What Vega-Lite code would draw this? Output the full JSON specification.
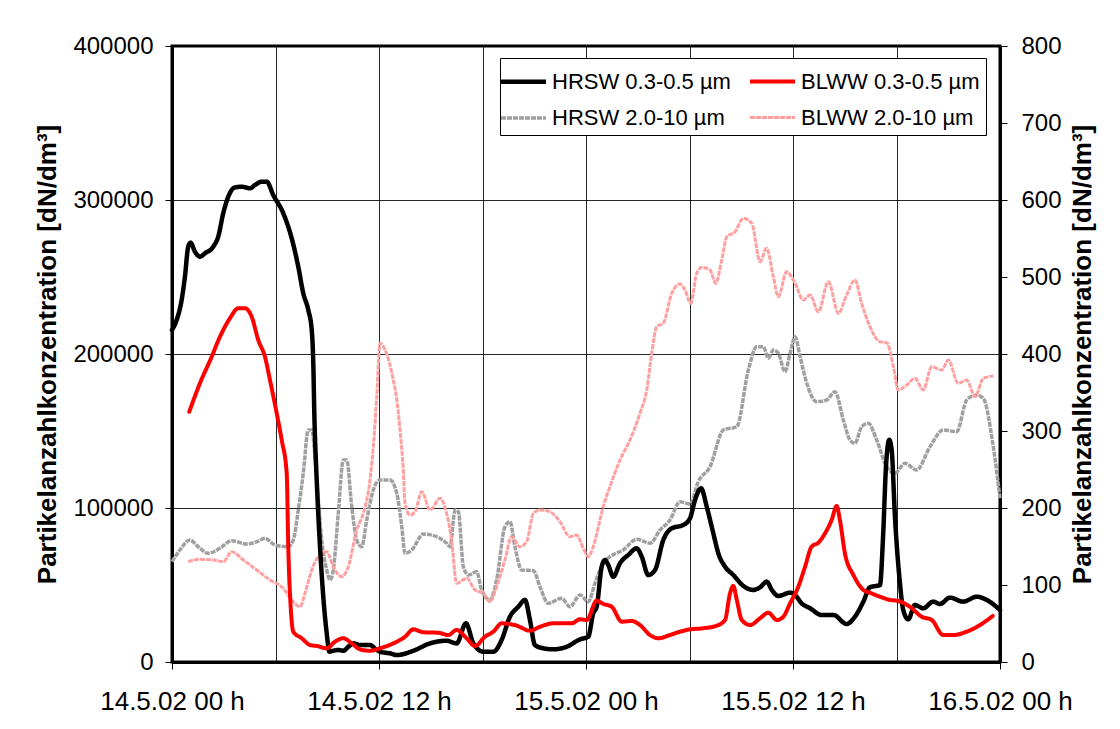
{
  "$schema": "https://vega.github.io/schema/vega-lite/v6.json",
  "width": 828,
  "height": 616,
  "autosize": "none",
  "padding": {"left": 172, "top": 46, "right": 120, "bottom": 67},
  "background": "white",
  "config": {
    "font": "Liberation Sans",
    "view": {"stroke": "#000000", "strokeWidth": 3},
    "axis": {
      "labelFont": "Liberation Sans",
      "titleFont": "Liberation Sans",
      "labelColor": "#000000",
      "titleColor": "#000000",
      "domainColor": "#000000",
      "domainWidth": 3,
      "tickColor": "#000000",
      "tickWidth": 1,
      "tickSize": 7,
      "gridColor": "#000000",
      "gridOpacity": 0.85,
      "gridWidth": 1
    },
    "legend": {
      "labelFont": "Liberation Sans",
      "labelFontSize": 22,
      "labelColor": "#000000"
    }
  },
  "datasets": {
    "fine": [
      {"h": 0, "s": "HRSW 0.3-0.5 µm", "v": 215600},
      {"h": 0.27, "s": "HRSW 0.3-0.5 µm", "v": 222100},
      {"h": 0.56, "s": "HRSW 0.3-0.5 µm", "v": 235100},
      {"h": 0.75, "s": "HRSW 0.3-0.5 µm", "v": 250200},
      {"h": 0.94, "s": "HRSW 0.3-0.5 µm", "v": 269700},
      {"h": 1.08, "s": "HRSW 0.3-0.5 µm", "v": 272300},
      {"h": 1.33, "s": "HRSW 0.3-0.5 µm", "v": 266400},
      {"h": 1.62, "s": "HRSW 0.3-0.5 µm", "v": 263200},
      {"h": 1.91, "s": "HRSW 0.3-0.5 µm", "v": 265400},
      {"h": 2.39, "s": "HRSW 0.3-0.5 µm", "v": 269700},
      {"h": 2.68, "s": "HRSW 0.3-0.5 µm", "v": 276200},
      {"h": 2.97, "s": "HRSW 0.3-0.5 µm", "v": 291400},
      {"h": 3.26, "s": "HRSW 0.3-0.5 µm", "v": 302100},
      {"h": 3.65, "s": "HRSW 0.3-0.5 µm", "v": 308200},
      {"h": 4.04, "s": "HRSW 0.3-0.5 µm", "v": 308600},
      {"h": 4.52, "s": "HRSW 0.3-0.5 µm", "v": 307600},
      {"h": 4.81, "s": "HRSW 0.3-0.5 µm", "v": 309700},
      {"h": 5.2, "s": "HRSW 0.3-0.5 µm", "v": 311900},
      {"h": 5.49, "s": "HRSW 0.3-0.5 µm", "v": 311900},
      {"h": 5.87, "s": "HRSW 0.3-0.5 µm", "v": 303200},
      {"h": 6.45, "s": "HRSW 0.3-0.5 µm", "v": 291400},
      {"h": 6.94, "s": "HRSW 0.3-0.5 µm", "v": 275100},
      {"h": 7.32, "s": "HRSW 0.3-0.5 µm", "v": 256700},
      {"h": 7.61, "s": "HRSW 0.3-0.5 µm", "v": 239400},
      {"h": 7.9, "s": "HRSW 0.3-0.5 µm", "v": 228600},
      {"h": 8.1, "s": "HRSW 0.3-0.5 µm", "v": 215600},
      {"h": 8.19, "s": "HRSW 0.3-0.5 µm", "v": 194000},
      {"h": 8.25, "s": "HRSW 0.3-0.5 µm", "v": 161700},
      {"h": 8.39, "s": "HRSW 0.3-0.5 µm", "v": 118200},
      {"h": 8.58, "s": "HRSW 0.3-0.5 µm", "v": 74900},
      {"h": 8.77, "s": "HRSW 0.3-0.5 µm", "v": 42400},
      {"h": 8.97, "s": "HRSW 0.3-0.5 µm", "v": 18600},
      {"h": 9.12, "s": "HRSW 0.3-0.5 µm", "v": 6700},
      {"h": 9.35, "s": "HRSW 0.3-0.5 µm", "v": 7300},
      {"h": 9.64, "s": "HRSW 0.3-0.5 µm", "v": 7800},
      {"h": 9.93, "s": "HRSW 0.3-0.5 µm", "v": 7300},
      {"h": 10.22, "s": "HRSW 0.3-0.5 µm", "v": 9900},
      {"h": 10.51, "s": "HRSW 0.3-0.5 µm", "v": 12100},
      {"h": 10.9, "s": "HRSW 0.3-0.5 µm", "v": 11000},
      {"h": 11.48, "s": "HRSW 0.3-0.5 µm", "v": 11000},
      {"h": 11.87, "s": "HRSW 0.3-0.5 µm", "v": 7800},
      {"h": 12.06, "s": "HRSW 0.3-0.5 µm", "v": 6700},
      {"h": 12.64, "s": "HRSW 0.3-0.5 µm", "v": 5600},
      {"h": 13.03, "s": "HRSW 0.3-0.5 µm", "v": 4500},
      {"h": 13.99, "s": "HRSW 0.3-0.5 µm", "v": 7300},
      {"h": 14.96, "s": "HRSW 0.3-0.5 µm", "v": 12100},
      {"h": 15.92, "s": "HRSW 0.3-0.5 µm", "v": 13800},
      {"h": 16.5, "s": "HRSW 0.3-0.5 µm", "v": 12100},
      {"h": 17.04, "s": "HRSW 0.3-0.5 µm", "v": 25100},
      {"h": 17.47, "s": "HRSW 0.3-0.5 µm", "v": 12100},
      {"h": 18.05, "s": "HRSW 0.3-0.5 µm", "v": 6700},
      {"h": 18.63, "s": "HRSW 0.3-0.5 µm", "v": 6700},
      {"h": 19.11, "s": "HRSW 0.3-0.5 µm", "v": 14300},
      {"h": 19.59, "s": "HRSW 0.3-0.5 µm", "v": 29400},
      {"h": 20.08, "s": "HRSW 0.3-0.5 µm", "v": 35900},
      {"h": 20.46, "s": "HRSW 0.3-0.5 µm", "v": 40300},
      {"h": 20.75, "s": "HRSW 0.3-0.5 µm", "v": 27300},
      {"h": 21.04, "s": "HRSW 0.3-0.5 µm", "v": 11000},
      {"h": 21.52, "s": "HRSW 0.3-0.5 µm", "v": 8900},
      {"h": 22.1, "s": "HRSW 0.3-0.5 µm", "v": 8200},
      {"h": 22.88, "s": "HRSW 0.3-0.5 µm", "v": 9900},
      {"h": 23.65, "s": "HRSW 0.3-0.5 µm", "v": 14700},
      {"h": 24.13, "s": "HRSW 0.3-0.5 µm", "v": 16400},
      {"h": 24.42, "s": "HRSW 0.3-0.5 µm", "v": 31600},
      {"h": 24.62, "s": "HRSW 0.3-0.5 µm", "v": 35900},
      {"h": 24.91, "s": "HRSW 0.3-0.5 µm", "v": 61900},
      {"h": 25.1, "s": "HRSW 0.3-0.5 µm", "v": 66200},
      {"h": 25.29, "s": "HRSW 0.3-0.5 µm", "v": 63000},
      {"h": 25.58, "s": "HRSW 0.3-0.5 µm", "v": 55400},
      {"h": 25.97, "s": "HRSW 0.3-0.5 µm", "v": 64100},
      {"h": 26.45, "s": "HRSW 0.3-0.5 µm", "v": 69500},
      {"h": 26.94, "s": "HRSW 0.3-0.5 µm", "v": 73800},
      {"h": 27.23, "s": "HRSW 0.3-0.5 µm", "v": 68400},
      {"h": 27.61, "s": "HRSW 0.3-0.5 µm", "v": 56500},
      {"h": 28.0, "s": "HRSW 0.3-0.5 µm", "v": 59700},
      {"h": 28.48, "s": "HRSW 0.3-0.5 µm", "v": 79200},
      {"h": 28.97, "s": "HRSW 0.3-0.5 µm", "v": 86800},
      {"h": 29.64, "s": "HRSW 0.3-0.5 µm", "v": 89000},
      {"h": 30.03, "s": "HRSW 0.3-0.5 µm", "v": 93300},
      {"h": 30.32, "s": "HRSW 0.3-0.5 µm", "v": 105200},
      {"h": 30.67, "s": "HRSW 0.3-0.5 µm", "v": 112800},
      {"h": 31.0, "s": "HRSW 0.3-0.5 µm", "v": 100800},
      {"h": 31.38, "s": "HRSW 0.3-0.5 µm", "v": 83600},
      {"h": 31.67, "s": "HRSW 0.3-0.5 µm", "v": 70600},
      {"h": 32.06, "s": "HRSW 0.3-0.5 µm", "v": 61900},
      {"h": 32.54, "s": "HRSW 0.3-0.5 µm", "v": 56500},
      {"h": 33.12, "s": "HRSW 0.3-0.5 µm", "v": 49400},
      {"h": 33.7, "s": "HRSW 0.3-0.5 µm", "v": 46800},
      {"h": 34.09, "s": "HRSW 0.3-0.5 µm", "v": 48500},
      {"h": 34.48, "s": "HRSW 0.3-0.5 µm", "v": 52100},
      {"h": 34.77, "s": "HRSW 0.3-0.5 µm", "v": 46800},
      {"h": 35.15, "s": "HRSW 0.3-0.5 µm", "v": 42900},
      {"h": 35.83, "s": "HRSW 0.3-0.5 µm", "v": 45000},
      {"h": 36.12, "s": "HRSW 0.3-0.5 µm", "v": 43500},
      {"h": 36.5, "s": "HRSW 0.3-0.5 µm", "v": 38100},
      {"h": 36.99, "s": "HRSW 0.3-0.5 µm", "v": 34900},
      {"h": 37.66, "s": "HRSW 0.3-0.5 µm", "v": 30500},
      {"h": 38.34, "s": "HRSW 0.3-0.5 µm", "v": 30500},
      {"h": 39.11, "s": "HRSW 0.3-0.5 µm", "v": 24700},
      {"h": 39.59, "s": "HRSW 0.3-0.5 µm", "v": 29400},
      {"h": 40.08, "s": "HRSW 0.3-0.5 µm", "v": 39200},
      {"h": 40.46, "s": "HRSW 0.3-0.5 µm", "v": 48500},
      {"h": 41.04, "s": "HRSW 0.3-0.5 µm", "v": 50000},
      {"h": 41.23, "s": "HRSW 0.3-0.5 µm", "v": 83600},
      {"h": 41.39, "s": "HRSW 0.3-0.5 µm", "v": 126800},
      {"h": 41.58, "s": "HRSW 0.3-0.5 µm", "v": 144200},
      {"h": 41.72, "s": "HRSW 0.3-0.5 µm", "v": 137700},
      {"h": 41.91, "s": "HRSW 0.3-0.5 µm", "v": 94400},
      {"h": 42.2, "s": "HRSW 0.3-0.5 µm", "v": 51100},
      {"h": 42.39, "s": "HRSW 0.3-0.5 µm", "v": 33800},
      {"h": 42.68, "s": "HRSW 0.3-0.5 µm", "v": 27700},
      {"h": 43.07, "s": "HRSW 0.3-0.5 µm", "v": 37000},
      {"h": 43.55, "s": "HRSW 0.3-0.5 µm", "v": 34900},
      {"h": 44.13, "s": "HRSW 0.3-0.5 µm", "v": 39200},
      {"h": 44.52, "s": "HRSW 0.3-0.5 µm", "v": 37700},
      {"h": 45.1, "s": "HRSW 0.3-0.5 µm", "v": 41800},
      {"h": 45.87, "s": "HRSW 0.3-0.5 µm", "v": 39200},
      {"h": 46.65, "s": "HRSW 0.3-0.5 µm", "v": 42400},
      {"h": 47.23, "s": "HRSW 0.3-0.5 µm", "v": 40300},
      {"h": 48, "s": "HRSW 0.3-0.5 µm", "v": 33800},
      {"h": 1.0, "s": "BLWW 0.3-0.5 µm", "v": 162500},
      {"h": 1.62, "s": "BLWW 0.3-0.5 µm", "v": 181000},
      {"h": 2.3, "s": "BLWW 0.3-0.5 µm", "v": 198200},
      {"h": 2.78, "s": "BLWW 0.3-0.5 µm", "v": 211200},
      {"h": 3.36, "s": "BLWW 0.3-0.5 µm", "v": 223200},
      {"h": 3.84, "s": "BLWW 0.3-0.5 µm", "v": 229700},
      {"h": 4.23, "s": "BLWW 0.3-0.5 µm", "v": 229700},
      {"h": 4.62, "s": "BLWW 0.3-0.5 µm", "v": 224200},
      {"h": 5.0, "s": "BLWW 0.3-0.5 µm", "v": 209100},
      {"h": 5.39, "s": "BLWW 0.3-0.5 µm", "v": 198200},
      {"h": 5.68, "s": "BLWW 0.3-0.5 µm", "v": 183100},
      {"h": 6.07, "s": "BLWW 0.3-0.5 µm", "v": 161500},
      {"h": 6.36, "s": "BLWW 0.3-0.5 µm", "v": 144200},
      {"h": 6.65, "s": "BLWW 0.3-0.5 µm", "v": 122500},
      {"h": 6.74, "s": "BLWW 0.3-0.5 µm", "v": 74900},
      {"h": 6.88, "s": "BLWW 0.3-0.5 µm", "v": 35900},
      {"h": 7.03, "s": "BLWW 0.3-0.5 µm", "v": 19700},
      {"h": 7.52, "s": "BLWW 0.3-0.5 µm", "v": 15400},
      {"h": 8.0, "s": "BLWW 0.3-0.5 µm", "v": 11000},
      {"h": 8.39, "s": "BLWW 0.3-0.5 µm", "v": 10400},
      {"h": 8.97, "s": "BLWW 0.3-0.5 µm", "v": 8900},
      {"h": 9.45, "s": "BLWW 0.3-0.5 µm", "v": 13200},
      {"h": 9.93, "s": "BLWW 0.3-0.5 µm", "v": 15400},
      {"h": 10.42, "s": "BLWW 0.3-0.5 µm", "v": 12100},
      {"h": 10.9, "s": "BLWW 0.3-0.5 µm", "v": 8200},
      {"h": 11.48, "s": "BLWW 0.3-0.5 µm", "v": 7300},
      {"h": 12.06, "s": "BLWW 0.3-0.5 µm", "v": 8900},
      {"h": 12.83, "s": "BLWW 0.3-0.5 µm", "v": 12100},
      {"h": 13.51, "s": "BLWW 0.3-0.5 µm", "v": 16400},
      {"h": 13.99, "s": "BLWW 0.3-0.5 µm", "v": 21200},
      {"h": 14.57, "s": "BLWW 0.3-0.5 µm", "v": 19300},
      {"h": 15.44, "s": "BLWW 0.3-0.5 µm", "v": 19000},
      {"h": 16.02, "s": "BLWW 0.3-0.5 µm", "v": 17500},
      {"h": 16.5, "s": "BLWW 0.3-0.5 µm", "v": 20800},
      {"h": 17.08, "s": "BLWW 0.3-0.5 µm", "v": 15400},
      {"h": 17.57, "s": "BLWW 0.3-0.5 µm", "v": 10400},
      {"h": 18.14, "s": "BLWW 0.3-0.5 µm", "v": 16400},
      {"h": 18.63, "s": "BLWW 0.3-0.5 µm", "v": 19700},
      {"h": 19.11, "s": "BLWW 0.3-0.5 µm", "v": 25100},
      {"h": 19.98, "s": "BLWW 0.3-0.5 µm", "v": 23600},
      {"h": 20.75, "s": "BLWW 0.3-0.5 µm", "v": 20300},
      {"h": 21.33, "s": "BLWW 0.3-0.5 µm", "v": 22900},
      {"h": 22.1, "s": "BLWW 0.3-0.5 µm", "v": 25100},
      {"h": 23.17, "s": "BLWW 0.3-0.5 µm", "v": 25100},
      {"h": 23.65, "s": "BLWW 0.3-0.5 µm", "v": 27700},
      {"h": 24.04, "s": "BLWW 0.3-0.5 µm", "v": 27300},
      {"h": 24.62, "s": "BLWW 0.3-0.5 µm", "v": 39800},
      {"h": 25.0, "s": "BLWW 0.3-0.5 µm", "v": 37700},
      {"h": 25.49, "s": "BLWW 0.3-0.5 µm", "v": 35900},
      {"h": 26.07, "s": "BLWW 0.3-0.5 µm", "v": 26200},
      {"h": 26.65, "s": "BLWW 0.3-0.5 µm", "v": 26600},
      {"h": 27.13, "s": "BLWW 0.3-0.5 µm", "v": 24000},
      {"h": 27.71, "s": "BLWW 0.3-0.5 µm", "v": 17500},
      {"h": 28.19, "s": "BLWW 0.3-0.5 µm", "v": 15400},
      {"h": 28.87, "s": "BLWW 0.3-0.5 µm", "v": 17500},
      {"h": 29.45, "s": "BLWW 0.3-0.5 µm", "v": 19700},
      {"h": 30.03, "s": "BLWW 0.3-0.5 µm", "v": 21200},
      {"h": 30.8, "s": "BLWW 0.3-0.5 µm", "v": 21900},
      {"h": 31.58, "s": "BLWW 0.3-0.5 µm", "v": 23600},
      {"h": 32.06, "s": "BLWW 0.3-0.5 µm", "v": 27300},
      {"h": 32.35, "s": "BLWW 0.3-0.5 µm", "v": 44600},
      {"h": 32.54, "s": "BLWW 0.3-0.5 µm", "v": 49400},
      {"h": 32.74, "s": "BLWW 0.3-0.5 µm", "v": 40300},
      {"h": 33.03, "s": "BLWW 0.3-0.5 µm", "v": 27300},
      {"h": 33.51, "s": "BLWW 0.3-0.5 µm", "v": 24000},
      {"h": 34.09, "s": "BLWW 0.3-0.5 µm", "v": 28400},
      {"h": 34.57, "s": "BLWW 0.3-0.5 µm", "v": 32000},
      {"h": 35.06, "s": "BLWW 0.3-0.5 µm", "v": 27300},
      {"h": 35.44, "s": "BLWW 0.3-0.5 µm", "v": 29400},
      {"h": 35.83, "s": "BLWW 0.3-0.5 µm", "v": 38100},
      {"h": 36.31, "s": "BLWW 0.3-0.5 µm", "v": 48900},
      {"h": 36.7, "s": "BLWW 0.3-0.5 µm", "v": 61900},
      {"h": 37.08, "s": "BLWW 0.3-0.5 µm", "v": 74900},
      {"h": 37.47, "s": "BLWW 0.3-0.5 µm", "v": 77500},
      {"h": 37.86, "s": "BLWW 0.3-0.5 µm", "v": 83600},
      {"h": 38.24, "s": "BLWW 0.3-0.5 µm", "v": 92200},
      {"h": 38.53, "s": "BLWW 0.3-0.5 µm", "v": 101300},
      {"h": 38.72, "s": "BLWW 0.3-0.5 µm", "v": 92200},
      {"h": 39.01, "s": "BLWW 0.3-0.5 µm", "v": 70600},
      {"h": 39.5, "s": "BLWW 0.3-0.5 µm", "v": 56500},
      {"h": 40.08, "s": "BLWW 0.3-0.5 µm", "v": 46800},
      {"h": 40.46, "s": "BLWW 0.3-0.5 µm", "v": 45000},
      {"h": 41.04, "s": "BLWW 0.3-0.5 µm", "v": 42400},
      {"h": 41.62, "s": "BLWW 0.3-0.5 µm", "v": 40300},
      {"h": 42.1, "s": "BLWW 0.3-0.5 µm", "v": 39600},
      {"h": 42.78, "s": "BLWW 0.3-0.5 µm", "v": 35900},
      {"h": 43.46, "s": "BLWW 0.3-0.5 µm", "v": 29400},
      {"h": 44.04, "s": "BLWW 0.3-0.5 µm", "v": 27300},
      {"h": 44.71, "s": "BLWW 0.3-0.5 µm", "v": 17500},
      {"h": 45.29, "s": "BLWW 0.3-0.5 µm", "v": 17500},
      {"h": 46.07, "s": "BLWW 0.3-0.5 µm", "v": 19700},
      {"h": 46.84, "s": "BLWW 0.3-0.5 µm", "v": 24000},
      {"h": 47.58, "s": "BLWW 0.3-0.5 µm", "v": 29900}
    ],
    "coarse": [
      {"h": 0, "s": "HRSW 2.0-10 µm", "v": 130.3},
      {"h": 0.46, "s": "HRSW 2.0-10 µm", "v": 145.5},
      {"h": 1.04, "s": "HRSW 2.0-10 µm", "v": 158.4},
      {"h": 1.52, "s": "HRSW 2.0-10 µm", "v": 149.7},
      {"h": 2.1, "s": "HRSW 2.0-10 µm", "v": 141.2},
      {"h": 2.78, "s": "HRSW 2.0-10 µm", "v": 147.7},
      {"h": 3.46, "s": "HRSW 2.0-10 µm", "v": 157.5},
      {"h": 4.33, "s": "HRSW 2.0-10 µm", "v": 153.2},
      {"h": 4.91, "s": "HRSW 2.0-10 µm", "v": 156.2},
      {"h": 5.39, "s": "HRSW 2.0-10 µm", "v": 160.6},
      {"h": 5.97, "s": "HRSW 2.0-10 µm", "v": 151.9},
      {"h": 6.74, "s": "HRSW 2.0-10 µm", "v": 149.7},
      {"h": 7.03, "s": "HRSW 2.0-10 µm", "v": 158.4},
      {"h": 7.32, "s": "HRSW 2.0-10 µm", "v": 197.4},
      {"h": 7.61, "s": "HRSW 2.0-10 µm", "v": 245.1},
      {"h": 7.9, "s": "HRSW 2.0-10 µm", "v": 301.3},
      {"h": 8.1, "s": "HRSW 2.0-10 µm", "v": 301.3},
      {"h": 8.39, "s": "HRSW 2.0-10 µm", "v": 236.4},
      {"h": 8.68, "s": "HRSW 2.0-10 µm", "v": 158.4},
      {"h": 8.97, "s": "HRSW 2.0-10 µm", "v": 119.5},
      {"h": 9.16, "s": "HRSW 2.0-10 µm", "v": 106.5},
      {"h": 9.35, "s": "HRSW 2.0-10 µm", "v": 119.5},
      {"h": 9.64, "s": "HRSW 2.0-10 µm", "v": 193.1},
      {"h": 9.93, "s": "HRSW 2.0-10 µm", "v": 262.3},
      {"h": 10.13, "s": "HRSW 2.0-10 µm", "v": 262.3},
      {"h": 10.42, "s": "HRSW 2.0-10 µm", "v": 201.7},
      {"h": 10.71, "s": "HRSW 2.0-10 µm", "v": 158.4},
      {"h": 11.0, "s": "HRSW 2.0-10 µm", "v": 149.7},
      {"h": 11.29, "s": "HRSW 2.0-10 µm", "v": 184.4},
      {"h": 11.67, "s": "HRSW 2.0-10 µm", "v": 223.4},
      {"h": 12.06, "s": "HRSW 2.0-10 µm", "v": 236.4},
      {"h": 12.64, "s": "HRSW 2.0-10 µm", "v": 236.4},
      {"h": 13.03, "s": "HRSW 2.0-10 µm", "v": 219.1},
      {"h": 13.32, "s": "HRSW 2.0-10 µm", "v": 175.7},
      {"h": 13.51, "s": "HRSW 2.0-10 µm", "v": 141.2},
      {"h": 13.9, "s": "HRSW 2.0-10 µm", "v": 145.5},
      {"h": 14.57, "s": "HRSW 2.0-10 µm", "v": 166.2},
      {"h": 15.34, "s": "HRSW 2.0-10 µm", "v": 162.7},
      {"h": 15.92, "s": "HRSW 2.0-10 µm", "v": 154.2},
      {"h": 16.12, "s": "HRSW 2.0-10 µm", "v": 149.7},
      {"h": 16.41, "s": "HRSW 2.0-10 µm", "v": 197.4},
      {"h": 16.6, "s": "HRSW 2.0-10 µm", "v": 195.2},
      {"h": 16.89, "s": "HRSW 2.0-10 µm", "v": 123.8},
      {"h": 17.18, "s": "HRSW 2.0-10 µm", "v": 113.0},
      {"h": 17.66, "s": "HRSW 2.0-10 µm", "v": 117.3},
      {"h": 17.95, "s": "HRSW 2.0-10 µm", "v": 93.5},
      {"h": 18.43, "s": "HRSW 2.0-10 µm", "v": 80.5},
      {"h": 18.82, "s": "HRSW 2.0-10 µm", "v": 106.5},
      {"h": 19.3, "s": "HRSW 2.0-10 µm", "v": 175.7},
      {"h": 19.59, "s": "HRSW 2.0-10 µm", "v": 182.2},
      {"h": 19.88, "s": "HRSW 2.0-10 µm", "v": 149.7},
      {"h": 20.27, "s": "HRSW 2.0-10 µm", "v": 119.5},
      {"h": 20.95, "s": "HRSW 2.0-10 µm", "v": 118.6},
      {"h": 21.33, "s": "HRSW 2.0-10 µm", "v": 97.8},
      {"h": 21.81, "s": "HRSW 2.0-10 µm", "v": 76.2},
      {"h": 22.59, "s": "HRSW 2.0-10 µm", "v": 82.7},
      {"h": 23.07, "s": "HRSW 2.0-10 µm", "v": 71.8},
      {"h": 23.65, "s": "HRSW 2.0-10 µm", "v": 87.0},
      {"h": 24.13, "s": "HRSW 2.0-10 µm", "v": 78.3},
      {"h": 24.52, "s": "HRSW 2.0-10 µm", "v": 102.2},
      {"h": 24.81, "s": "HRSW 2.0-10 µm", "v": 119.5},
      {"h": 25.0, "s": "HRSW 2.0-10 µm", "v": 128.2},
      {"h": 25.39, "s": "HRSW 2.0-10 µm", "v": 136.8},
      {"h": 26.16, "s": "HRSW 2.0-10 µm", "v": 145.5},
      {"h": 26.94, "s": "HRSW 2.0-10 µm", "v": 159.4},
      {"h": 27.71, "s": "HRSW 2.0-10 µm", "v": 154.2},
      {"h": 28.29, "s": "HRSW 2.0-10 µm", "v": 171.4},
      {"h": 28.87, "s": "HRSW 2.0-10 µm", "v": 184.4},
      {"h": 29.45, "s": "HRSW 2.0-10 µm", "v": 208.2},
      {"h": 30.03, "s": "HRSW 2.0-10 µm", "v": 205.2},
      {"h": 30.51, "s": "HRSW 2.0-10 µm", "v": 234.2},
      {"h": 31.19, "s": "HRSW 2.0-10 µm", "v": 253.6},
      {"h": 31.96, "s": "HRSW 2.0-10 µm", "v": 301.3},
      {"h": 32.74, "s": "HRSW 2.0-10 µm", "v": 305.6},
      {"h": 33.41, "s": "HRSW 2.0-10 µm", "v": 379.2},
      {"h": 33.9, "s": "HRSW 2.0-10 µm", "v": 409.5},
      {"h": 34.28, "s": "HRSW 2.0-10 µm", "v": 409.5},
      {"h": 34.57, "s": "HRSW 2.0-10 µm", "v": 394.4},
      {"h": 34.86, "s": "HRSW 2.0-10 µm", "v": 405.2},
      {"h": 35.15, "s": "HRSW 2.0-10 µm", "v": 400.9},
      {"h": 35.54, "s": "HRSW 2.0-10 µm", "v": 377.0},
      {"h": 35.83, "s": "HRSW 2.0-10 µm", "v": 400.9},
      {"h": 36.12, "s": "HRSW 2.0-10 µm", "v": 422.5},
      {"h": 36.41, "s": "HRSW 2.0-10 µm", "v": 396.5},
      {"h": 36.8, "s": "HRSW 2.0-10 µm", "v": 361.9},
      {"h": 37.37, "s": "HRSW 2.0-10 µm", "v": 338.1},
      {"h": 37.95, "s": "HRSW 2.0-10 µm", "v": 340.3},
      {"h": 38.43, "s": "HRSW 2.0-10 µm", "v": 351.0},
      {"h": 38.92, "s": "HRSW 2.0-10 µm", "v": 314.3},
      {"h": 39.3, "s": "HRSW 2.0-10 µm", "v": 288.3},
      {"h": 39.59, "s": "HRSW 2.0-10 µm", "v": 284.0},
      {"h": 39.98, "s": "HRSW 2.0-10 µm", "v": 305.6},
      {"h": 40.37, "s": "HRSW 2.0-10 µm", "v": 310.0},
      {"h": 40.85, "s": "HRSW 2.0-10 µm", "v": 288.3},
      {"h": 41.43, "s": "HRSW 2.0-10 µm", "v": 253.6},
      {"h": 41.91, "s": "HRSW 2.0-10 µm", "v": 245.1},
      {"h": 42.49, "s": "HRSW 2.0-10 µm", "v": 258.1},
      {"h": 43.17, "s": "HRSW 2.0-10 µm", "v": 249.4},
      {"h": 43.94, "s": "HRSW 2.0-10 µm", "v": 279.6},
      {"h": 44.71, "s": "HRSW 2.0-10 µm", "v": 301.3},
      {"h": 45.49, "s": "HRSW 2.0-10 µm", "v": 299.1},
      {"h": 46.07, "s": "HRSW 2.0-10 µm", "v": 340.3},
      {"h": 46.65, "s": "HRSW 2.0-10 µm", "v": 346.8},
      {"h": 47.03, "s": "HRSW 2.0-10 µm", "v": 342.5},
      {"h": 47.61, "s": "HRSW 2.0-10 µm", "v": 279.6},
      {"h": 48, "s": "HRSW 2.0-10 µm", "v": 212.6},
      {"h": 0.94, "s": "BLWW 2.0-10 µm", "v": 130.3},
      {"h": 1.62, "s": "BLWW 2.0-10 µm", "v": 133.4},
      {"h": 2.39, "s": "BLWW 2.0-10 µm", "v": 132.5},
      {"h": 2.97, "s": "BLWW 2.0-10 µm", "v": 130.3},
      {"h": 3.46, "s": "BLWW 2.0-10 µm", "v": 143.2},
      {"h": 4.13, "s": "BLWW 2.0-10 µm", "v": 132.5},
      {"h": 4.91, "s": "BLWW 2.0-10 µm", "v": 119.5},
      {"h": 5.68, "s": "BLWW 2.0-10 µm", "v": 106.5},
      {"h": 6.45, "s": "BLWW 2.0-10 µm", "v": 95.7},
      {"h": 6.94, "s": "BLWW 2.0-10 µm", "v": 80.5},
      {"h": 7.42, "s": "BLWW 2.0-10 µm", "v": 71.8},
      {"h": 7.71, "s": "BLWW 2.0-10 µm", "v": 89.2},
      {"h": 8.1, "s": "BLWW 2.0-10 µm", "v": 119.5},
      {"h": 8.48, "s": "BLWW 2.0-10 µm", "v": 136.8},
      {"h": 8.97, "s": "BLWW 2.0-10 µm", "v": 143.2},
      {"h": 9.35, "s": "BLWW 2.0-10 µm", "v": 123.8},
      {"h": 9.84, "s": "BLWW 2.0-10 µm", "v": 110.8},
      {"h": 10.22, "s": "BLWW 2.0-10 µm", "v": 123.8},
      {"h": 10.71, "s": "BLWW 2.0-10 µm", "v": 171.4},
      {"h": 11.09, "s": "BLWW 2.0-10 µm", "v": 193.1},
      {"h": 11.48, "s": "BLWW 2.0-10 µm", "v": 236.4},
      {"h": 11.67, "s": "BLWW 2.0-10 µm", "v": 279.6},
      {"h": 11.87, "s": "BLWW 2.0-10 µm", "v": 344.5},
      {"h": 12.06, "s": "BLWW 2.0-10 µm", "v": 413.9},
      {"h": 12.35, "s": "BLWW 2.0-10 µm", "v": 405.2},
      {"h": 12.83, "s": "BLWW 2.0-10 µm", "v": 366.2},
      {"h": 13.03, "s": "BLWW 2.0-10 µm", "v": 341.0},
      {"h": 13.22, "s": "BLWW 2.0-10 µm", "v": 301.0},
      {"h": 13.41, "s": "BLWW 2.0-10 µm", "v": 249.0},
      {"h": 13.51, "s": "BLWW 2.0-10 µm", "v": 206.0},
      {"h": 13.8, "s": "BLWW 2.0-10 µm", "v": 190.9},
      {"h": 14.09, "s": "BLWW 2.0-10 µm", "v": 195.2},
      {"h": 14.48, "s": "BLWW 2.0-10 µm", "v": 221.2},
      {"h": 14.96, "s": "BLWW 2.0-10 µm", "v": 197.4},
      {"h": 15.54, "s": "BLWW 2.0-10 µm", "v": 212.6},
      {"h": 15.92, "s": "BLWW 2.0-10 µm", "v": 193.1},
      {"h": 16.21, "s": "BLWW 2.0-10 µm", "v": 158.4},
      {"h": 16.5, "s": "BLWW 2.0-10 µm", "v": 102.2},
      {"h": 17.08, "s": "BLWW 2.0-10 µm", "v": 108.7},
      {"h": 17.57, "s": "BLWW 2.0-10 µm", "v": 93.5},
      {"h": 18.05, "s": "BLWW 2.0-10 µm", "v": 89.2},
      {"h": 18.43, "s": "BLWW 2.0-10 µm", "v": 78.3},
      {"h": 18.82, "s": "BLWW 2.0-10 µm", "v": 97.8},
      {"h": 19.3, "s": "BLWW 2.0-10 µm", "v": 132.5},
      {"h": 19.69, "s": "BLWW 2.0-10 µm", "v": 162.7},
      {"h": 20.17, "s": "BLWW 2.0-10 µm", "v": 149.7},
      {"h": 20.56, "s": "BLWW 2.0-10 µm", "v": 156.2},
      {"h": 20.95, "s": "BLWW 2.0-10 µm", "v": 193.1},
      {"h": 21.33, "s": "BLWW 2.0-10 µm", "v": 197.4},
      {"h": 21.91, "s": "BLWW 2.0-10 µm", "v": 195.2},
      {"h": 22.49, "s": "BLWW 2.0-10 µm", "v": 182.2},
      {"h": 23.07, "s": "BLWW 2.0-10 µm", "v": 162.7},
      {"h": 23.46, "s": "BLWW 2.0-10 µm", "v": 164.9},
      {"h": 23.84, "s": "BLWW 2.0-10 µm", "v": 147.7},
      {"h": 24.13, "s": "BLWW 2.0-10 µm", "v": 136.8},
      {"h": 24.42, "s": "BLWW 2.0-10 µm", "v": 149.7},
      {"h": 24.81, "s": "BLWW 2.0-10 µm", "v": 184.4},
      {"h": 25.0, "s": "BLWW 2.0-10 µm", "v": 201.7},
      {"h": 25.39, "s": "BLWW 2.0-10 µm", "v": 227.7},
      {"h": 25.97, "s": "BLWW 2.0-10 µm", "v": 262.3},
      {"h": 26.55, "s": "BLWW 2.0-10 µm", "v": 288.3},
      {"h": 27.13, "s": "BLWW 2.0-10 µm", "v": 323.0},
      {"h": 27.52, "s": "BLWW 2.0-10 µm", "v": 353.2},
      {"h": 27.81, "s": "BLWW 2.0-10 µm", "v": 400.9},
      {"h": 28.1, "s": "BLWW 2.0-10 µm", "v": 435.5},
      {"h": 28.48, "s": "BLWW 2.0-10 µm", "v": 439.9},
      {"h": 28.97, "s": "BLWW 2.0-10 µm", "v": 478.8},
      {"h": 29.45, "s": "BLWW 2.0-10 µm", "v": 490.9},
      {"h": 29.74, "s": "BLWW 2.0-10 µm", "v": 483.1},
      {"h": 30.07, "s": "BLWW 2.0-10 µm", "v": 465.8},
      {"h": 30.42, "s": "BLWW 2.0-10 µm", "v": 504.8},
      {"h": 30.71, "s": "BLWW 2.0-10 µm", "v": 512.6},
      {"h": 31.19, "s": "BLWW 2.0-10 µm", "v": 509.1},
      {"h": 31.52, "s": "BLWW 2.0-10 µm", "v": 491.8},
      {"h": 31.87, "s": "BLWW 2.0-10 µm", "v": 522.1},
      {"h": 32.16, "s": "BLWW 2.0-10 µm", "v": 552.3},
      {"h": 32.64, "s": "BLWW 2.0-10 µm", "v": 558.8},
      {"h": 33.12, "s": "BLWW 2.0-10 µm", "v": 576.2},
      {"h": 33.61, "s": "BLWW 2.0-10 µm", "v": 569.7},
      {"h": 34.09, "s": "BLWW 2.0-10 µm", "v": 519.9},
      {"h": 34.47, "s": "BLWW 2.0-10 µm", "v": 537.3},
      {"h": 34.86, "s": "BLWW 2.0-10 µm", "v": 500.4},
      {"h": 35.15, "s": "BLWW 2.0-10 µm", "v": 474.4},
      {"h": 35.63, "s": "BLWW 2.0-10 µm", "v": 506.9},
      {"h": 36.12, "s": "BLWW 2.0-10 µm", "v": 491.8},
      {"h": 36.6, "s": "BLWW 2.0-10 µm", "v": 470.1},
      {"h": 36.99, "s": "BLWW 2.0-10 µm", "v": 476.6},
      {"h": 37.47, "s": "BLWW 2.0-10 µm", "v": 454.9},
      {"h": 38.05, "s": "BLWW 2.0-10 µm", "v": 493.9},
      {"h": 38.63, "s": "BLWW 2.0-10 µm", "v": 452.9},
      {"h": 39.11, "s": "BLWW 2.0-10 µm", "v": 476.6},
      {"h": 39.59, "s": "BLWW 2.0-10 µm", "v": 496.1},
      {"h": 39.98, "s": "BLWW 2.0-10 µm", "v": 465.8},
      {"h": 40.46, "s": "BLWW 2.0-10 µm", "v": 435.5},
      {"h": 41.04, "s": "BLWW 2.0-10 µm", "v": 416.0},
      {"h": 41.43, "s": "BLWW 2.0-10 µm", "v": 414.7},
      {"h": 41.82, "s": "BLWW 2.0-10 µm", "v": 383.5},
      {"h": 42.1, "s": "BLWW 2.0-10 µm", "v": 353.2},
      {"h": 42.59, "s": "BLWW 2.0-10 µm", "v": 359.7},
      {"h": 43.07, "s": "BLWW 2.0-10 µm", "v": 368.4},
      {"h": 43.55, "s": "BLWW 2.0-10 µm", "v": 353.2},
      {"h": 44.04, "s": "BLWW 2.0-10 µm", "v": 383.5},
      {"h": 44.62, "s": "BLWW 2.0-10 µm", "v": 379.2},
      {"h": 45.0, "s": "BLWW 2.0-10 µm", "v": 392.2},
      {"h": 45.58, "s": "BLWW 2.0-10 µm", "v": 361.9},
      {"h": 46.07, "s": "BLWW 2.0-10 µm", "v": 366.2},
      {"h": 46.55, "s": "BLWW 2.0-10 µm", "v": 344.5},
      {"h": 47.03, "s": "BLWW 2.0-10 µm", "v": 368.4},
      {"h": 47.61, "s": "BLWW 2.0-10 µm", "v": 371.4}
    ]
  },
  "layer": [
    {
      "data": {"name": "coarse"},
      "mark": {"type": "line", "interpolate": "monotone", "strokeCap": "butt"},
      "encoding": {
        "x": {
          "field": "h", "type": "quantitative",
          "scale": {"domain": [0, 48], "nice": false, "zero": false},
          "axis": {
            "values": [0, 6, 12, 18, 24, 30, 36, 42, 48],
            "labelExpr": "datum.value == 0 ? '14.5.02 00 h' : datum.value == 12 ? '14.5.02 12 h' : datum.value == 24 ? '15.5.02 00 h' : datum.value == 36 ? '15.5.02 12 h' : datum.value == 48 ? '16.5.02 00 h' : ''",
            "title": null, "grid": true, "labelFontSize": 26, "labelPadding": 19,
            "labelFlush": false, "labelOverlap": false,
            "tickOpacity": {"condition": {"test": "datum.value % 12 == 0", "value": 1}, "value": 0}
          }
        },
        "y": {
          "field": "v", "type": "quantitative",
          "scale": {"domain": [0, 800], "nice": false},
          "axis": {
            "orient": "right", "values": [0, 100, 200, 300, 400, 500, 600, 700, 800],
            "grid": false, "labelFontSize": 24, "labelPadding": 14,
            "title": "Partikelanzahlkonzentration [dN/dm³]", "titleFontSize": 26, "titleFontWeight": "bold",
            "titleAngle": 270, "titlePadding": 34
          }
        },
        "color": {
          "field": "s", "type": "nominal",
          "scale": {"domain": ["HRSW 0.3-0.5 µm", "BLWW 0.3-0.5 µm", "HRSW 2.0-10 µm", "BLWW 2.0-10 µm"], "range": ["#000000", "#ff0000", "#a0a0a0", "#ffa0a0"]},
          "legend": {"title": null, "orient": "none", "legendX": 328, "legendY": 12, "columns": 2, "direction": "horizontal", "symbolType": "M-1.5,0H1.5", "symbolSize": 900, "labelOffset": 11, "columnPadding": 11, "rowPadding": 8, "padding": 6, "fillColor": "#ffffff", "strokeColor": "#000000", "labelFontSize": 22, "labelLimit": 400}
        },
        "strokeDash": {
          "field": "s", "type": "nominal",
          "scale": {"domain": ["HRSW 0.3-0.5 µm", "BLWW 0.3-0.5 µm", "HRSW 2.0-10 µm", "BLWW 2.0-10 µm"], "range": [[1, 0], [1, 0], [5, 1], [5, 1]]}
        },
        "strokeWidth": {
          "field": "s", "type": "nominal",
          "scale": {"domain": ["HRSW 0.3-0.5 µm", "BLWW 0.3-0.5 µm", "HRSW 2.0-10 µm", "BLWW 2.0-10 µm"], "range": [4.5, 3, 5, 4]}
        }
      }
    },
    {
      "data": {"name": "fine"},
      "mark": {"type": "line", "interpolate": "monotone", "strokeCap": "round"},
      "encoding": {
        "x": {"field": "h", "type": "quantitative"},
        "y": {
          "field": "v", "type": "quantitative",
          "scale": {"domain": [0, 400000], "nice": false},
          "axis": {
            "orient": "left", "values": [0, 100000, 200000, 300000, 400000], "format": "d",
            "grid": true, "labelFontSize": 24, "labelPadding": 12,
            "title": "Partikelanzahlkonzentration [dN/dm³]", "titleFontSize": 26, "titleFontWeight": "bold",
            "titlePadding": 12
          }
        },
        "color": {
          "field": "s", "type": "nominal",
          "scale": {"domain": ["HRSW 0.3-0.5 µm", "BLWW 0.3-0.5 µm", "HRSW 2.0-10 µm", "BLWW 2.0-10 µm"], "range": ["#000000", "#ff0000", "#a0a0a0", "#ffa0a0"]}
        },
        "strokeDash": {
          "field": "s", "type": "nominal",
          "scale": {"domain": ["HRSW 0.3-0.5 µm", "BLWW 0.3-0.5 µm", "HRSW 2.0-10 µm", "BLWW 2.0-10 µm"], "range": [[1, 0], [1, 0], [5, 1], [5, 1]]}
        },
        "strokeWidth": {
          "field": "s", "type": "nominal",
          "scale": {"domain": ["HRSW 0.3-0.5 µm", "BLWW 0.3-0.5 µm", "HRSW 2.0-10 µm", "BLWW 2.0-10 µm"], "range": [4.5, 3, 5, 4]}
        }
      }
    }
  ],
  "resolve": {"scale": {"y": "independent"}}
}
